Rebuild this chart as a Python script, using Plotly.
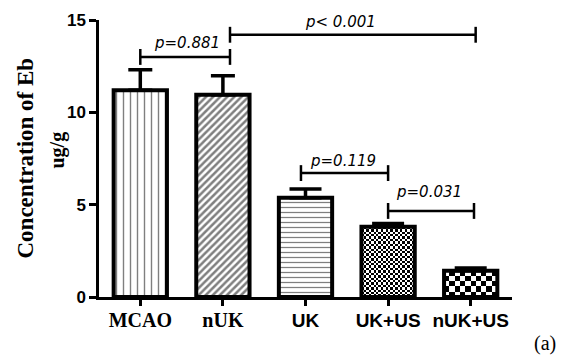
import numpy as np
import plotly.graph_objects as go

# Evans blue content per group (mean and upper error)
categories = ["MCAO", "nUK", "UK", "UK+US", "nUK+US"]
means = [11.2, 10.95, 5.38, 3.80, 1.42]
errors = [1.1, 1.03, 0.47, 0.18, 0.15]

# significance brackets: start category pos, end category pos, height, label
bracket_x0 = [0.0, 1.086, 1.945, 3.0]
bracket_x1 = [1.086, 4.06, 3.0, 4.04]
bracket_y = [13.0, 14.2, 6.71, 4.66]
p_labels = ["p=0.881", "p< 0.001", "p=0.119", "p=0.031"]
p_label_x = [0.565, 2.42, 2.45, 3.50]
p_label_y = [13.78, 14.89, 7.36, 5.66]

y_ticks = [0, 5, 10, 15]

# fill style for each bar
patterns = [
    dict(shape="|", size=7, solidity=0.2),
    dict(shape="/", size=5, solidity=0.5),
    dict(shape="-", size=5, solidity=0.25),
    None,  # fine checkerboard
    None,  # coarse checkerboard
]
checker_cols = [0, 0, 0, 22, 10]
cap_widths = [12, 12, 16, 16, 16]
bar_w = 0.645

serif_cats = {"MCAO", "nUK"}
tick_text = [
    f"<span style=\"font-family:'Liberation Serif','Times New Roman',serif;font-size:20px\">{c}</span>"
    if c in serif_cats else c
    for c in categories
]

fig = go.Figure()

for i, (cat, m, e, pat) in enumerate(zip(categories, means, errors, patterns)):
    if pat is None:
        # checkered fill drawn as a tiny black/white grid under the bar outline
        ncols = checker_cols[i]
        cell_w = bar_w / ncols
        cell_px_x = cell_w * 82.6
        nrows = max(1, int(round(m * 18.47 / cell_px_x)))
        zz = np.indices((nrows, ncols)).sum(axis=0) % 2
        fig.add_trace(go.Heatmap(
            z=zz, x0=i - bar_w / 2 + cell_w / 2, dx=cell_w,
            y0=m / nrows / 2, dy=m / nrows,
            colorscale=[[0, "white"], [1, "black"]], showscale=False,
            zsmooth=False, hoverinfo="skip",
        ))
        marker = dict(color="rgba(0,0,0,0)", line=dict(color="black", width=4))
    else:
        marker = dict(color="white", line=dict(color="black", width=4),
                      pattern=dict(fgcolor="black", bgcolor="white", **pat))
    fig.add_trace(go.Bar(
        x=[i], y=[m], width=bar_w, marker=marker,
        error_y=dict(type="data", symmetric=False, array=[e], arrayminus=[0],
                     color="black", thickness=3.5, width=cap_widths[i]),
        showlegend=False,
    ))

# significance brackets
for x0, x1, yb in zip(bracket_x0, bracket_x1, bracket_y):
    fig.add_trace(go.Scatter(
        x=[x0, x0, None, x0, x1, None, x1, x1],
        y=[yb - 0.43, yb + 0.43, None, yb, yb, None, yb - 0.43, yb + 0.43],
        mode="lines", line=dict(color="black", width=2.5),
        showlegend=False, hoverinfo="skip", cliponaxis=False,
    ))

# italic p-value labels
for lab, lx, ly in zip(p_labels, p_label_x, p_label_y):
    fig.add_annotation(
        x=lx, y=ly, xref="x", yref="y", text="<i>" + lab + "</i>", showarrow=False,
        font=dict(family="DejaVu Sans", size=15, color="black"),
        xanchor="center", yanchor="middle",
    )

# y axis title, two lines
fig.add_annotation(
    xref="paper", yref="paper", x=0, y=0.5, xshift=-74, textangle=-90,
    text="<b>Concentration of Eb</b>", showarrow=False,
    font=dict(family="Liberation Serif", size=23, color="black"),
    xanchor="center", yanchor="middle",
)
fig.add_annotation(
    xref="paper", yref="paper", x=0, y=0.5, xshift=-42, yshift=8, textangle=-90,
    text="<b>ug/g</b>", showarrow=False,
    font=dict(family="Liberation Serif", size=20, color="black"),
    xanchor="center", yanchor="middle",
)
fig.add_annotation(
    xref="paper", yref="paper", x=1.0787, y=-0.168, text="(a)", showarrow=False,
    font=dict(family="Liberation Serif", size=20, color="black"),
    xanchor="center", yanchor="middle",
)

fig.update_layout(
    width=567, height=355,
    margin=dict(l=99, r=55, t=20, b=58),
    plot_bgcolor="white", paper_bgcolor="white",
    font=dict(family="Arial", color="black"),
    barmode="overlay", showlegend=False,
)
fig.update_xaxes(
    range=[-0.5, 4.5], tickmode="array", tickvals=list(range(len(categories))),
    ticktext=tick_text, showline=True, linecolor="black", linewidth=2.5,
    ticks="outside", ticklen=6, tickwidth=2.5, tickcolor="black",
    showgrid=False, zeroline=False, ticklabelstandoff=-2,
    tickfont=dict(family="Arial", size=19, color="black", weight="bold"),
)
fig.update_yaxes(
    range=[0, 15], tickvals=y_ticks, showline=True, linecolor="black", linewidth=2.5,
    ticks="outside", ticklen=7, tickwidth=2.5, tickcolor="black",
    showgrid=False, zeroline=False,
    tickfont=dict(family="Arial", size=17, color="black", weight="bold"),
)

fig.write_html("out.html")
